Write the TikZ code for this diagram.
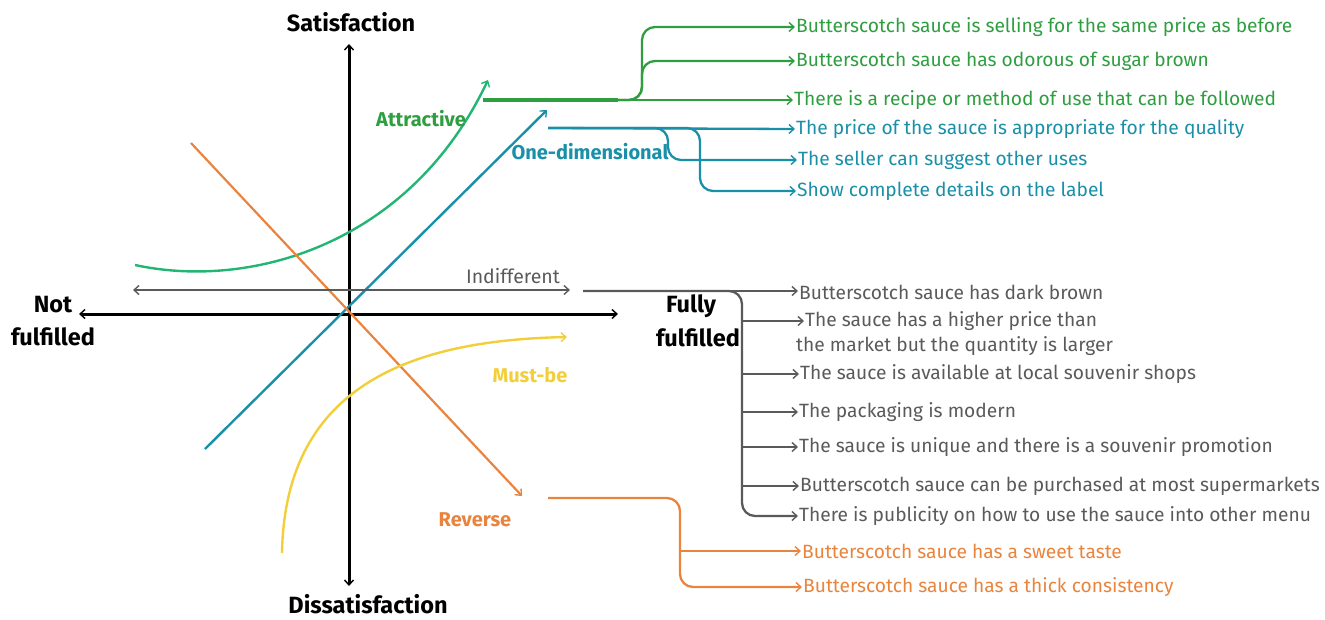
\documentclass[tikz,border=0pt]{standalone}
\usepackage{fontspec}
\setmainfont{Fira Sans}
\usetikzlibrary{arrows.meta}
\definecolor{kgreen}{HTML}{2F9E41}
\definecolor{kcurve}{HTML}{22B573}
\definecolor{kblue}{HTML}{1A8FA8}
\definecolor{kgray}{HTML}{5A5A5A}
\definecolor{korange}{HTML}{E8843E}
\definecolor{kyellow}{HTML}{F2CF3A}
\begin{document}
\begin{tikzpicture}[x=1pt,y=-1pt,
  tip/.style={-{Straight Barb[length=5pt,width=9pt,line width=1.4pt]}},
  bitip/.style={{Straight Barb[length=5pt,width=9pt,line width=1.4pt]}-{Straight Barb[length=5pt,width=9pt,line width=1.4pt]}},
  item/.style={anchor=west,inner xsep=1pt,inner ysep=0pt,font=\fontsize{19.2}{22}\selectfont},
  lab/.style={font=\bfseries\fontsize{20}{23}\selectfont,inner sep=0pt},
  axlab/.style={font=\bfseries\fontsize{23.5}{27}\selectfont,inner sep=0pt},
  branch/.style={line width=2.3pt,rounded corners=13pt}]
\useasboundingbox (0,0) rectangle (1325,619);
% axes
\coordinate (ytop) at (349,44);
\coordinate (ybot) at (349,586);
\coordinate (xleft) at (79,314);
\coordinate (xright) at (618,314);
\draw[bitip,line width=3pt] (ybot) -- (ytop);
\draw[bitip,line width=3pt] (xleft) -- (xright);
\node[axlab] (sat) at (351,22) {Satisfaction};
\node[axlab] (dis) at (368,604) {Dissatisfaction};
\node[axlab] (nf1) at (53,305) {Not};
\node[axlab] (nf2) at (53,337) {fulfilled};
\node[axlab] (ff1) at (691,306) {Fully};
\node[axlab] (ff2) at (698,338) {fulfilled};
% curves
\coordinate (a0) at (135,265);
\coordinate (a1) at (488,80);
\draw[kcurve,line width=2.4pt,tip] (a0) .. controls (250,290) and (410,245) .. (a1);
\coordinate (od0) at (205,449);
\coordinate (od1) at (547,110);
\draw[kblue,line width=2.4pt,tip] (od0) -- (od1);
\coordinate (r0) at (191,143);
\coordinate (r1) at (522,496);
\draw[korange,line width=2.2pt,tip] (r0) -- (r1);
\coordinate (m0) at (282,553);
\coordinate (m1) at (567,337);
\draw[kyellow,line width=2.4pt,tip] (m0) .. controls (285,380) and (420,340) .. (m1);
\coordinate (i0) at (133,290);
\coordinate (i1) at (570,290);
\draw[kgray,line width=2.2pt,bitip] (i0) -- (i1);
% labels
\node[lab,text=kgreen] (latt) at (421,119) {Attractive};
\node[lab,text=kblue] (lone) at (590,152) {One-dimensional};
\node[font=\fontsize{19.5}{22}\selectfont,inner sep=0pt,text=kgray] (lind) at (513,276) {Indifferent};
\node[lab,text=kyellow] (lmust) at (530,375) {Must-be};
\node[lab,text=korange] (lrev) at (475,520) {Reverse};
% green items
\node[item,text=kgreen] (g1) at (795,27) {Butterscotch sauce is selling for the same price as before};
\node[item,text=kgreen] (g2) at (795,61) {Butterscotch sauce has odorous of sugar brown};
\node[item,text=kgreen] (g3) at (793,100) {There is a recipe or method of use that can be followed};
\coordinate (gs) at (483,100);
\coordinate (gj) at (618,100);
\draw[kgreen,line width=3.2pt] (gs) -- (gj);
\draw[kgreen,line width=2.3pt,tip] (gj) -- (g3.west);
\draw[kgreen,branch,tip] (gj) -| (642,27) -- (g1.west);
\draw[kgreen,branch,tip] (gj) -| (642,61) -- (g2.west);
% blue items
\node[item,text=kblue] (b1) at (795,129) {The price of the sauce is appropriate for the quality};
\node[item,text=kblue] (b2) at (797,160) {The seller can suggest other uses};
\node[item,text=kblue] (b3) at (796,191) {Show complete details on the label};
\coordinate (bs) at (548,128);
\draw[kblue,line width=2.3pt,tip] (bs) -- (b1.west);
\draw[kblue,branch,tip] (bs) -| (668,160) -- (b2.west);
\draw[kblue,branch,tip] (bs) -| (700,191) -- (b3.west);
% gray items
\node[item,text=kgray] (n1) at (798,292) {Butterscotch sauce has dark brown};
\node[item,text=kgray] (n2) at (804,321) {The sauce has a higher price than};
\node[item,text=kgray] (n2b) at (795,346) {the market but the quantity is larger};
\node[item,text=kgray] (n3) at (799,374) {The sauce is available at local souvenir shops};
\node[item,text=kgray] (n4) at (798,412) {The packaging is modern};
\node[item,text=kgray] (n5) at (798,447) {The sauce is unique and there is a souvenir promotion};
\node[item,text=kgray] (n6) at (799,486) {Butterscotch sauce can be purchased at most supermarkets};
\node[item,text=kgray] (n7) at (798,516) {There is publicity on how to use the sauce into other menu};
\coordinate (ns) at (583,291);
\draw[kgray,line width=2.3pt,tip] (ns) -- (n1.west |- ns);
\draw[kgray,branch,tip] (ns) -| (742,516) -- (n7.west);
\foreach \n/\yy in {n2/321,n3/374,n4/412,n5/447,n6/486}
  \draw[kgray,line width=2.3pt,tip] (742,\yy) -- (\n.west);
% orange items
\node[item,text=korange] (o1) at (801,551) {Butterscotch sauce has a sweet taste};
\node[item,text=korange] (o2) at (802,587) {Butterscotch sauce has a thick consistency};
\coordinate (os) at (548,498);
\draw[korange,branch,tip] (os) -| (680,587) -- (o2.west);
\draw[korange,line width=2.3pt,tip] (680,551) -- (o1.west);
\end{tikzpicture}
\end{document}
